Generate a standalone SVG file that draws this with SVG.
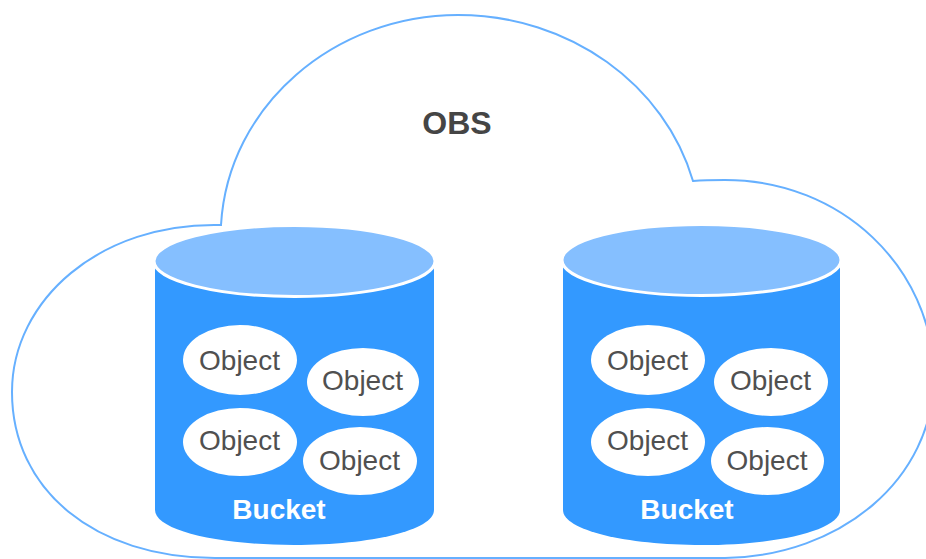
<svg xmlns="http://www.w3.org/2000/svg" width="926" height="559" viewBox="0 0 926 559">
<style>
text{font-family:"Liberation Sans",Arial,sans-serif;text-anchor:middle}
.o{fill:#fff}
.ot{font-size:28px;fill:#505050}
.b{font-size:28px;font-weight:bold;fill:#fff}
.body{fill:#3399ff}
.top{fill:#85bfff;stroke:#fff;stroke-width:3}
</style>
<rect width="926" height="559" fill="#fff"/>
<g id="cloud"><path d="M221 225C228 105 335 15 458 15C570 15 665 85 693 181C705 180 715 180 725 180C842 180 932 268 934 375C934 480 840 556 725 558L215 558C95 558 12 490 12 392C12 300 100 222 221 225Z" fill="#fff" stroke="#66b0ff" stroke-width="2"/>
<text x="457" y="134" style="font-size:32px;font-weight:bold;fill:#454545">OBS</text></g>
<g id="bucket1">
<path class="body" d="M155 261V510C155 530 217 545 294 545C372 545 434 530 434 510V261Z"/>
<ellipse class="top" cx="294.500" cy="261" rx="140.500" ry="35.500"/>
<text class="b" x="279" y="519">Bucket</text>
<g id="obj1a"><ellipse class="o" cx="240" cy="360" rx="57" ry="35"/><text class="ot" x="239.500" y="370">Object</text></g>
<g id="obj1b"><ellipse class="o" cx="363" cy="382" rx="56" ry="34"/><text class="ot" x="362.500" y="390">Object</text></g>
<g id="obj1c"><ellipse class="o" cx="240" cy="442" rx="57" ry="34"/><text class="ot" x="239.500" y="450">Object</text></g>
<g id="obj1d"><ellipse class="o" cx="360" cy="461" rx="57" ry="34"/><text class="ot" x="359.500" y="470">Object</text></g>
</g>
<g id="bucket2">
<path class="body" d="M563 260V510C563 530 625 545 702 545C778 545 840 530 840 510V260Z"/>
<ellipse class="top" cx="701.500" cy="260" rx="139.500" ry="35.500"/>
<text class="b" x="687" y="519">Bucket</text>
<g id="obj2a"><ellipse class="o" cx="648" cy="360" rx="57" ry="35"/><text class="ot" x="647.500" y="370">Object</text></g>
<g id="obj2b"><ellipse class="o" cx="771" cy="382" rx="57" ry="34"/><text class="ot" x="770.500" y="390">Object</text></g>
<g id="obj2c"><ellipse class="o" cx="648" cy="442" rx="57" ry="34"/><text class="ot" x="647.500" y="450">Object</text></g>
<g id="obj2d"><ellipse class="o" cx="767.500" cy="461" rx="56.500" ry="34"/><text class="ot" x="767" y="470">Object</text></g>
</g>
<g id="connectors"/>
</svg>
